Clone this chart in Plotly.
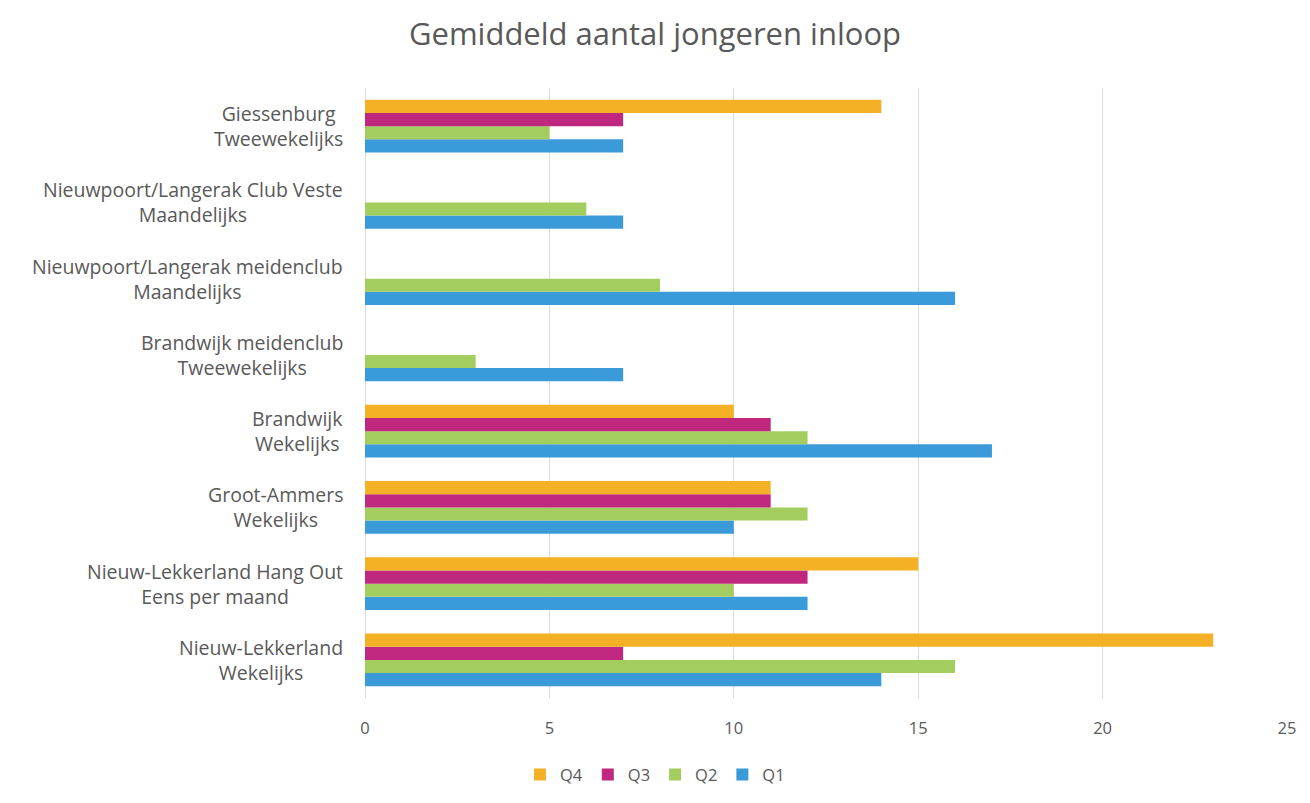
import plotly.graph_objects as go

categories_line1 = ["Giessenburg", "Nieuwpoort/Langerak Club Veste", "Nieuwpoort/Langerak meidenclub",
                    "Brandwijk meidenclub", "Brandwijk", "Groot-Ammers", "Nieuw-Lekkerland Hang Out",
                    "Nieuw-Lekkerland"]
categories_line2 = ["Tweewekelijks", "Maandelijks", "Maandelijks", "Tweewekelijks", "Wekelijks",
                    "Wekelijks", "Eens per maand", "Wekelijks"]
categories = [a + " " + b for a, b in zip(categories_line1, categories_line2)]

q1 = [7, 7, 16, 7, 17, 10, 12, 14]
q2 = [5, 6, 8, 3, 12, 12, 10, 16]
q3 = [7, None, None, None, 11, 11, 12, 7]
q4 = [14, None, None, None, 10, 11, 15, 23]

series = [("Q1", q1, "#3B9AD9"), ("Q2", q2, "#A3CD5E"), ("Q3", q3, "#C0277E"), ("Q4", q4, "#F4B126")]

cat_order = list(reversed(categories))

fig = go.Figure()
for name, vals, col in series:
    fig.add_trace(go.Bar(
        y=categories, x=vals, name=name, orientation="h",
        marker=dict(color=col, line=dict(width=0)),
    ))

font_fam = "Open Sans, Lato, sans-serif"
grey = "#595959"

annotations = []
for c, l1, l2 in zip(categories, categories_line1, categories_line2):
    annotations.append(dict(
        x=0, xref="paper", y=c, yref="y", text=l1 + "<br>" + l2, showarrow=False,
        xanchor="right", yanchor="middle", align="center", xshift=-20,
        font=dict(family=font_fam, size=19.5, color=grey),
    ))

fig.update_layout(
    width=1310, height=803,
    paper_bgcolor="white", plot_bgcolor="white",
    barmode="group", bargap=0.31, bargroupgap=0,
    margin=dict(l=365, r=23, t=88, b=105, autoexpand=False),
    title=dict(text="Gemiddeld aantal jongeren inloop", x=0.5, xanchor="center", y=0.957, yanchor="middle",
               font=dict(family=font_fam, size=31, color=grey)),
    xaxis=dict(range=[0, 25], dtick=5, showgrid=True, gridcolor="#DCDCDC", gridwidth=1,
               zeroline=True, zerolinecolor="#DCDCDC", zerolinewidth=1,
               ticks="outside", ticklen=15, tickcolor="rgba(0,0,0,0)",
               tickfont=dict(family=font_fam, size=16.5, color=grey), fixedrange=True),
    yaxis=dict(categoryorder="array", categoryarray=cat_order, showticklabels=False,
               showgrid=False, zeroline=False, showline=False),
    legend=dict(orientation="h", x=0.3145, xanchor="center", y=-0.126, yanchor="middle",
                traceorder="reversed", font=dict(family=font_fam, size=16.5, color=grey),
                itemwidth=30),
    annotations=annotations,
    showlegend=True,
)

fig.write_html("out.html", config={"displayModeBar": False},
               post_script="document.body.style.margin='0px';")
